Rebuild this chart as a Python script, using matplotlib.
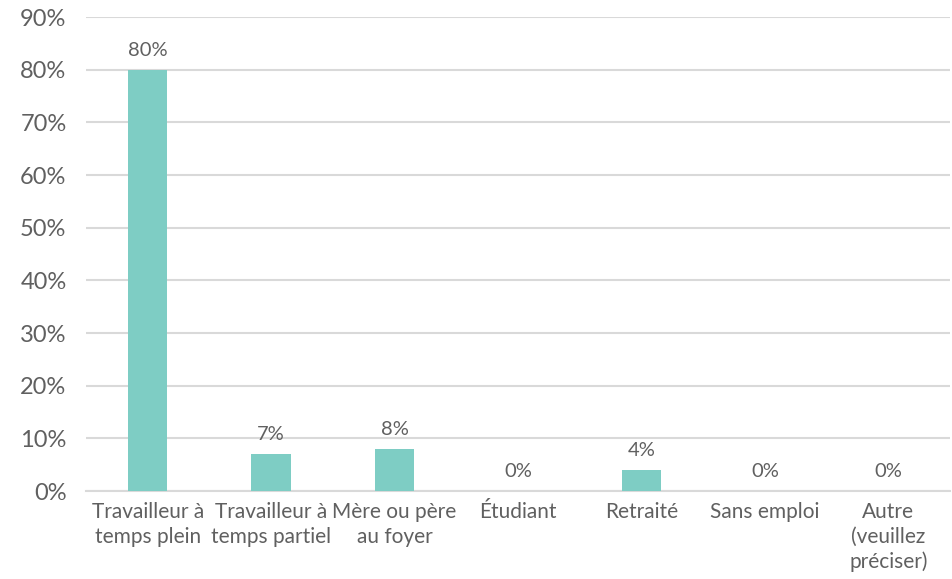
import matplotlib.pyplot as plt
from matplotlib.ticker import FuncFormatter

categories = ['Travailleur à\ntemps plein', 'Travailleur à\ntemps partiel', 'Mère ou père\nau foyer',
              'Étudiant', 'Retraité', 'Sans emploi', 'Autre\n(veuillez\npréciser)']
values = [80, 7, 8, 0, 4, 0, 0]
labels = ['80%', '7%', '8%', '0%', '4%', '0%', '0%']

plt.rcParams['font.family'] = ['Lato', 'DejaVu Sans']
plt.rcParams['font.weight'] = 'normal'
text_col = '#606060'
grid_col = '#d9d9d9'

fig = plt.figure(figsize=(9.53, 5.79), dpi=100)
ax = fig.add_axes([86 / 953, 88 / 579, 864 / 953, 474 / 579])

x = range(len(categories))
bars = ax.bar(x, values, width=0.32, color='#7ecdc4', zorder=3)
for b, lab in zip(bars, labels):
    ax.annotate(lab, (b.get_x() + b.get_width() / 2, b.get_height()),
                xytext=(0, 8), textcoords='offset points', ha='center', va='bottom',
                fontsize=14.5, color=text_col)

ax.set_xlim(-0.5, len(categories) - 0.5)
ax.set_ylim(0, 90)
ax.set_yticks(range(0, 91, 10))
ax.yaxis.set_major_formatter(FuncFormatter(lambda v, p: f'{v:.0f}%'))
ax.grid(axis='y', color=grid_col, linewidth=1.5, zorder=0)
ax.set_xticks(list(x))
ax.set_xticklabels(categories, fontsize=15, color=text_col, linespacing=1.3)
ax.tick_params(axis='y', labelsize=17, colors=text_col, length=0, pad=14)
ax.tick_params(axis='x', length=0, pad=8)
for s in ['top', 'right', 'left']:
    ax.spines[s].set_visible(False)
ax.spines['bottom'].set_color(grid_col)
ax.spines['bottom'].set_linewidth(1.5)

fig.savefig('out.png', dpi=100)
